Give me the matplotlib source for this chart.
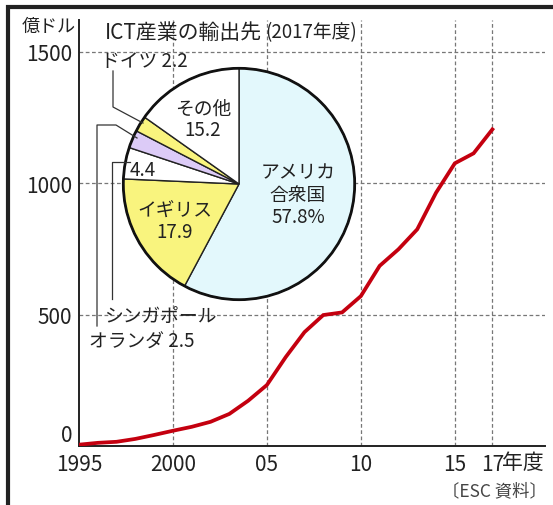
#!/usr/bin/env python3
import matplotlib
matplotlib.use("Agg")
import matplotlib.pyplot as plt
from matplotlib.lines import Line2D

plt.rcParams['font.family'] = ['Noto Sans CJK JP', 'DejaVu Sans']

# ICT export values (100 million USD), fiscal years 1995-2017
years = list(range(1995, 2018))
exports = [5, 12, 16, 27, 42, 58, 73, 92, 122, 172,
           232, 338, 433, 498, 508, 570, 685, 748, 824, 963,
           1075, 1113, 1204]

# 2017 export destinations (%)
dest_names = ["アメリカ合衆国", "イギリス", "シンガポール", "オランダ", "ドイツ", "その他"]
dest_share = [57.8, 17.9, 4.4, 2.5, 2.2, 15.2]
dest_colors = ["#e3f8fc", "#f9f47e", "#ffffff", "#dccbf7", "#f9f47e", "#ffffff"]

xticks = [1995, 2000, 2005, 2010, 2015, 2017]
xtick_labels = ["1995", "2000", "05", "10", "15", "17"]
yticks = [0, 500, 1000, 1500]

W, H = 553, 506
fig = plt.figure(figsize=(W / 100, H / 100), dpi=100)


def fx(px):
    return px / W


def fy(py):
    return 1 - py / H


# line chart
ax = fig.add_axes([fx(79), fy(447), fx(545) - fx(79), fy(21) - fy(447)])
ax.plot(years, exports, color="#c4000f", lw=2.7, solid_joinstyle='miter', zorder=3)
ax.set_xlim(1995, 2019.8)
ax.set_ylim(0, 1620)
ax.set_xticks(xticks)
ax.set_xticklabels(xtick_labels)
ax.set_yticks(yticks)
ax.tick_params(length=0, labelsize=15, colors="#222222")
ax.tick_params(axis='x', pad=5)
ax.tick_params(axis='y', pad=5)
for lab in ax.get_yticklabels():
    if lab.get_text() == "0":
        lab.set_va('bottom')
for s in ["top", "right"]:
    ax.spines[s].set_visible(False)
for s in ["left", "bottom"]:
    ax.spines[s].set_color("#222222")
    ax.spines[s].set_linewidth(1.4)
for v in yticks[1:]:
    ax.axhline(v, color="#777777", lw=0.9, ls=(0, (3, 2)), zorder=1)
for v in xticks[1:]:
    ax.axvline(v, color="#777777", lw=0.9, ls=(0, (3, 2)), zorder=1)

ax.annotate("年度", xy=(2017, 0), xycoords='data', xytext=(10, -5),
            textcoords='offset pixels', ha='left', va='top', fontsize=15,
            color="#222222")
fig.text(fx(76), fy(27), "億ドル", ha='right', va='center', fontsize=13,
         color="#222222")
fig.text(fx(547), fy(491), "〔ESC 資料〕", ha='right', va='center', fontsize=12.5,
         color="#444444")

# title
fig.text(fx(105), fy(33), "ICT産業の輸出先", ha='left', va='center',
         fontsize=15, color="#222222")
fig.text(fx(265), fy(33), "(2017年度)", ha='left', va='center',
         fontsize=13.5, color="#222222")

# pie
cx, cy, r = 239, 185, 118
pax = fig.add_axes([fx(cx - r), fy(cy + r), fx(2 * r), fy(0) - fy(2 * r)])
pax.pie(dest_share, colors=dest_colors, startangle=90, counterclock=False,
        radius=1, wedgeprops=dict(edgecolor="#222222", linewidth=1.0))
circ = plt.Circle((0, 0), 1, fill=False, ec="#111111", lw=2.0)
pax.add_patch(circ)
pax.set_xlim(-1.02, 1.02)
pax.set_ylim(-1.02, 1.02)
pax.set_aspect('equal')
pax.axis('off')

fs = 13.5
fig.text(fx(298), fy(195), "アメリカ\n合衆国\n57.8%", ha='center', va='center',
         fontsize=fs, linespacing=1.1, color="#222222")
fig.text(fx(175), fy(222), "イギリス\n17.9", ha='center', va='center',
         fontsize=fs, linespacing=1.05, color="#222222")
fig.text(fx(203), fy(120), "その他\n15.2", ha='center', va='center',
         fontsize=fs, linespacing=1.05, color="#222222")
fig.text(fx(130), fy(170), "4.4", ha='left', va='center',
         fontsize=fs, color="#222222")
fig.text(fx(101), fy(62), "ドイツ 2.2", ha='left', va='center',
         fontsize=fs, color="#222222")
fig.text(fx(104), fy(316), "シンガポール", ha='left', va='center',
         fontsize=fs, color="#222222")
fig.text(fx(89), fy(342), "オランダ 2.5", ha='left', va='center',
         fontsize=fs, color="#222222")

# leader lines
leaders = [
    [(113, 72), (113, 108), (143, 124)],
    [(97, 327), (97, 126), (116, 126), (137, 139)],
    [(112, 300), (112, 163), (130, 163)],
]
for pts in leaders:
    xs = [fx(p[0]) for p in pts]
    ys = [fy(p[1]) for p in pts]
    fig.add_artist(Line2D(xs, ys, color="#333333", lw=0.9))

# frame
fig.add_artist(Line2D([fx(8), fx(8), 1], [0, fy(8), fy(8)], color="#222222",
                      lw=3.0, solid_joinstyle='miter'))

fig.savefig("out.png", dpi=100)
